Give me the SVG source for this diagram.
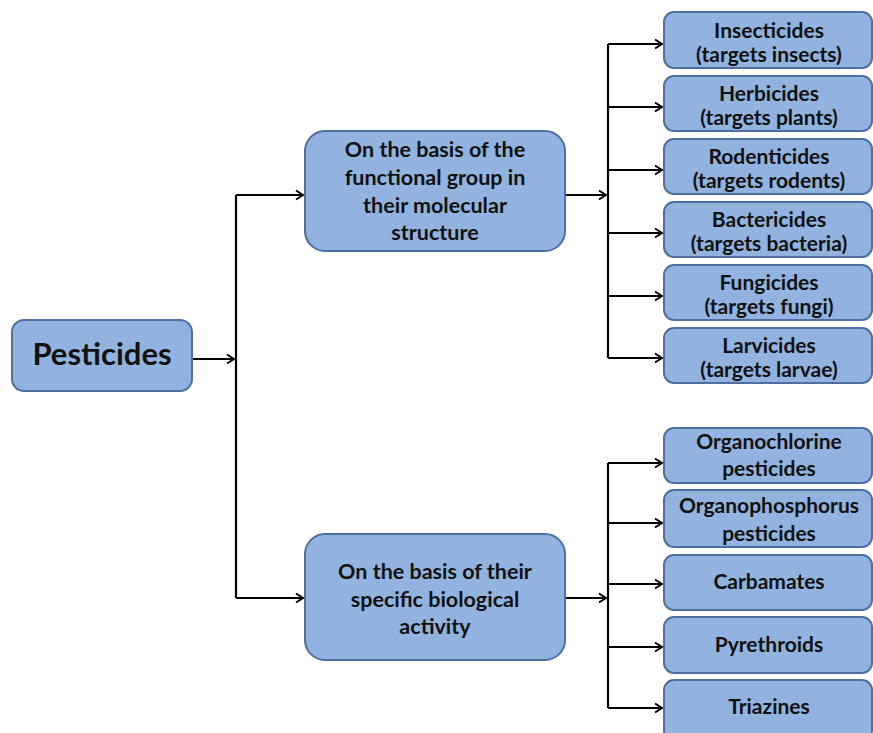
<svg xmlns="http://www.w3.org/2000/svg" width="873" height="733" viewBox="0 0 873 733">
<defs>
<marker id="ah" markerWidth="12" markerHeight="12" refX="10" refY="6" orient="auto" markerUnits="userSpaceOnUse">
<path d="M3,1.5 L10,6 L3,10.5" fill="none" stroke="#000" stroke-width="2"/>
</marker>
</defs>
<style>
.box{fill:#92B3DF;stroke:#4E6FA0;stroke-width:2}
.t{font-family:Lato,"Open Sans","Liberation Sans",sans-serif;font-weight:bold;fill:#111;text-anchor:middle}
.s{font-size:21px}
.m{font-size:21.5px}
.big{font-size:31px}
.c{fill:none;stroke:#000;stroke-width:2.2}
</style>
<rect width="873" height="733" fill="#fff"/>
<g id="connectors">
<path class="c" d="M193,359 H234" marker-end="url(#ah)"/>
<path class="c" d="M236,195 V598"/>
<path class="c" d="M236,195 H303" marker-end="url(#ah)"/>
<path class="c" d="M236,598 H303" marker-end="url(#ah)"/>
<path class="c" d="M565,195 H606" marker-end="url(#ah)"/>
<path class="c" d="M565,598 H606" marker-end="url(#ah)"/>
<path class="c" d="M608,44 V358"/>
<path class="c" d="M608,44 H662" marker-end="url(#ah)"/>
<path class="c" d="M608,107 H662" marker-end="url(#ah)"/>
<path class="c" d="M608,170 H662" marker-end="url(#ah)"/>
<path class="c" d="M608,233 H662" marker-end="url(#ah)"/>
<path class="c" d="M608,296 H662" marker-end="url(#ah)"/>
<path class="c" d="M608,358 H662" marker-end="url(#ah)"/>
<path class="c" d="M608,463 V708"/>
<path class="c" d="M608,463 H662" marker-end="url(#ah)"/>
<path class="c" d="M608,523 H662" marker-end="url(#ah)"/>
<path class="c" d="M608,584 H662" marker-end="url(#ah)"/>
<path class="c" d="M608,647 H662" marker-end="url(#ah)"/>
<path class="c" d="M608,708 H662" marker-end="url(#ah)"/>
</g>
<g id="pesticides">
<rect class="box" x="12" y="320" width="180" height="71" rx="12"/>
<text class="t big" x="102" y="365">Pesticides</text>
</g>
<g id="functional">
<rect class="box" x="305" y="131" width="260" height="120" rx="20"/>
<text class="t m" x="435" y="157">On the basis of the</text>
<text class="t m" x="435" y="185">functional group in</text>
<text class="t m" x="435" y="213">their molecular</text>
<text class="t m" x="435" y="240">structure</text>
</g>
<g id="biological">
<rect class="box" x="305" y="534" width="260" height="126" rx="20"/>
<text class="t m" x="435" y="579">On the basis of their</text>
<text class="t m" x="435" y="607">specific biological</text>
<text class="t m" x="435" y="634">activity</text>
</g>
<g id="insecticides">
<rect class="box" x="664" y="12" width="208" height="56" rx="10"/>
<text class="t s" x="769" y="38">Insecticides</text>
<text class="t s" x="769" y="62">(targets insects)</text>
</g>
<g id="herbicides">
<rect class="box" x="664" y="76" width="208" height="55" rx="10"/>
<text class="t s" x="769" y="101">Herbicides</text>
<text class="t s" x="769" y="125">(targets plants)</text>
</g>
<g id="rodenticides">
<rect class="box" x="664" y="139" width="208" height="55" rx="10"/>
<text class="t s" x="769" y="164">Rodenticides</text>
<text class="t s" x="769" y="188">(targets rodents)</text>
</g>
<g id="bactericides">
<rect class="box" x="664" y="202" width="208" height="55" rx="10"/>
<text class="t s" x="769" y="227">Bactericides</text>
<text class="t s" x="769" y="251">(targets bacteria)</text>
</g>
<g id="fungicides">
<rect class="box" x="664" y="265" width="208" height="55" rx="10"/>
<text class="t s" x="769" y="290">Fungicides</text>
<text class="t s" x="769" y="314">(targets fungi)</text>
</g>
<g id="larvicides">
<rect class="box" x="664" y="328" width="208" height="55" rx="10"/>
<text class="t s" x="769" y="353">Larvicides</text>
<text class="t s" x="769" y="377">(targets larvae)</text>
</g>
<g id="organochlorine">
<rect class="box" x="664" y="428" width="208" height="55" rx="10"/>
<text class="t s" x="769" y="449">Organochlorine</text>
<text class="t s" x="769" y="476">pesticides</text>
</g>
<g id="organophosphorus">
<rect class="box" x="664" y="490" width="208" height="57" rx="10"/>
<text class="t s" x="769" y="513">Organophosphorus</text>
<text class="t s" x="769" y="541">pesticides</text>
</g>
<g id="carbamates">
<rect class="box" x="664" y="555" width="208" height="55" rx="10"/>
<text class="t s" x="769" y="589">Carbamates</text>
</g>
<g id="pyrethroids">
<rect class="box" x="664" y="617" width="208" height="56" rx="10"/>
<text class="t s" x="769" y="652">Pyrethroids</text>
</g>
<g id="triazines">
<rect class="box" x="664" y="680" width="208" height="60" rx="10"/>
<text class="t s" x="769" y="714">Triazines</text>
</g>
</svg>
